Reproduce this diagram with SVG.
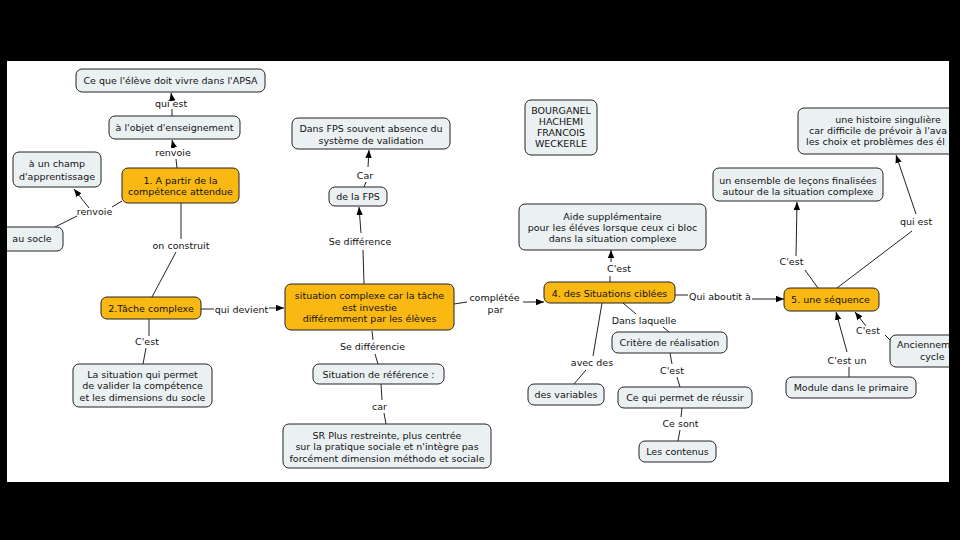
<svg xmlns="http://www.w3.org/2000/svg" width="960" height="540" viewBox="0 0 960 540">
<defs>
<clipPath id="frame"><rect x="7" y="61" width="942" height="421"/></clipPath>
<marker id="arr" markerUnits="userSpaceOnUse" markerWidth="9" markerHeight="7" refX="8" refY="3.2" orient="auto"><path d="M0,0 L8,3.2 L0,6.4 z" fill="#000"/></marker>
<style>
text{font-family:"DejaVu Sans","Verdana",sans-serif;font-size:9.5px;fill:#111;text-anchor:middle}
.st{text-anchor:start}
.n rect{fill:#ebf1f3;stroke:#222;stroke-width:1}
.o rect{fill:#f9b912;stroke:#222;stroke-width:1}
#connectors path{fill:none;stroke:#222;stroke-width:1}
#connectors path.a{marker-end:url(#arr)}
</style>
</defs>
<rect x="0" y="0" width="960" height="540" fill="#000"/>
<g clip-path="url(#frame)">
<rect x="7" y="61" width="942" height="421" fill="#fff"/>
<g id="connectors">
<path d="M177,168 L176,159"/>
<path class="a" d="M174,148 L172,140"/>
<path d="M172,116 L172,109"/>
<path class="a" d="M172,99 L171,93"/>
<path d="M122,201 L112,207"/>
<path class="a" d="M89,208 L74,189"/>
<path d="M77,216 L53,228"/>
<path d="M181,203 L181,239"/>
<path d="M176,252 L152,297"/>
<path d="M201,309 L214,309"/>
<path class="a" d="M269,308 L284,308"/>
<path d="M149,319 L149,336"/>
<path d="M146,348 L143,364"/>
<path d="M364,284 L363,250"/>
<path class="a" d="M361,233 L359,207"/>
<path d="M364,187 L366,182"/>
<path class="a" d="M368,167 L369,150"/>
<path d="M372,331 L373,340"/>
<path d="M375,354 L378,364"/>
<path d="M381,384 L382,400"/>
<path d="M384,413 L386,424"/>
<path d="M454,304 L467,302"/>
<path class="a" d="M523,302 L544,302"/>
<path d="M610,282 L610,276"/>
<path class="a" d="M611,262 L611,250"/>
<path d="M675,295 L688,295"/>
<path class="a" d="M752,299 L784,299"/>
<path d="M602,303 L593,356"/>
<path d="M586,370 L574,384"/>
<path d="M623,303 L636,314"/>
<path d="M663,327 L669,332"/>
<path d="M670,353 L672,364"/>
<path d="M677,377 L680,387"/>
<path d="M682,408 L681,417"/>
<path d="M680,430 L678,441"/>
<path d="M818,288 L805,270"/>
<path class="a" d="M796,256 L797,202"/>
<path d="M837,288 L912,231"/>
<path class="a" d="M916,214 L896,155"/>
<path d="M849,377 L849,367"/>
<path class="a" d="M847,352 L836,312"/>
<path d="M891,341 L885,335"/>
<path class="a" d="M866,326 L855,312"/>
</g>
<g id="labels">
<text x="171" y="106.5">qui est</text>
<text x="173" y="156">renvoie</text>
<text x="94.5" y="215">renvoie</text>
<text x="181" y="248.5">on construit</text>
<text x="241.5" y="312.5">qui devient</text>
<text x="147" y="344.5">C'est</text>
<text x="365" y="178.5">Car</text>
<text x="360" y="245">Se différence</text>
<text x="372.5" y="350">Se différencie</text>
<text x="379.5" y="409.5">car</text>
<text x="494.5" y="301">complétée</text>
<text x="495.5" y="312.5">par</text>
<text x="619" y="271.5">C'est</text>
<text x="720" y="300">Qui aboutit à</text>
<text x="644" y="324">Dans laquelle</text>
<text x="592" y="366">avec des</text>
<text x="672" y="373.5">C'est</text>
<text x="680.5" y="427">Ce sont</text>
<text x="791.5" y="265">C'est</text>
<text x="916" y="225">qui est</text>
<text x="847" y="363.5">C'est un</text>
<text x="868" y="333.5">C'est</text>
</g>
<g id="n_apsa" class="n"><rect x="76" y="69" width="189" height="23" rx="6"/><text x="170.5" y="84">Ce que l'élève doit vivre dans l'APSA</text></g>
<g id="n_objet" class="n"><rect x="109" y="116" width="131" height="23" rx="6"/><text x="174.5" y="131">à l'objet d'enseignement</text></g>
<g id="n_champ" class="n"><rect x="13" y="152" width="88" height="35" rx="6"/><text x="57" y="167">à un champ</text><text x="57" y="180">d'apprentissage</text></g>
<g id="n_comp" class="o"><rect x="122" y="168" width="117" height="35" rx="6"/><text x="180.5" y="183.5">1. A partir de la</text><text x="180.5" y="195">compétence attendue</text></g>
<g id="n_socle" class="n"><rect x="-3" y="227" width="66" height="24" rx="6"/><text x="32" y="242">au socle</text></g>
<g id="n_tache" class="o"><rect x="101" y="297" width="100" height="22" rx="6"/><text x="151" y="311.5">2.Tâche complexe</text></g>
<g id="n_lasit" class="n"><rect x="73" y="364" width="139" height="43" rx="6"/><text x="142.5" y="377.5">La situation qui permet</text><text x="142.5" y="389">de valider la compétence</text><text x="142.5" y="400.5">et les dimensions du socle</text></g>
<g id="n_sit" class="o"><rect x="285" y="284" width="169" height="46" rx="6"/><text x="369.5" y="299">situation complexe car la tâche</text><text x="369.5" y="310.5">est investie</text><text x="369.5" y="322">différemment par les élèves</text></g>
<g id="n_ref" class="n"><rect x="313" y="364" width="131" height="20" rx="6"/><text x="378.5" y="377.5">Situation de référence :</text></g>
<g id="n_sr" class="n"><rect x="283" y="424" width="208" height="44" rx="6"/><text x="387" y="438.5">SR Plus restreinte, plus centrée</text><text x="387" y="450">sur la pratique sociale et n'intègre pas</text><text x="387" y="461.5">forcément dimension méthodo et sociale</text></g>
<g id="n_fpsabs" class="n"><rect x="292" y="118" width="158" height="31" rx="6"/><text x="371" y="132">Dans FPS souvent absence du</text><text x="371" y="143.5">système de validation</text></g>
<g id="n_fps" class="n"><rect x="329" y="187" width="58" height="19" rx="6"/><text x="358" y="199.5">de la FPS</text></g>
<g id="n_auteurs" class="n"><rect x="525" y="100" width="72" height="55" rx="6"/><text x="561" y="113.5">BOURGANEL</text><text x="561" y="124.7">HACHEMI</text><text x="561" y="135.9">FRANCOIS</text><text x="561" y="147.1">WECKERLE</text></g>
<g id="n_aide" class="n"><rect x="519" y="204" width="187" height="46" rx="6"/><text x="612.5" y="219.5">Aide supplémentaire</text><text x="612.5" y="230.5">pour les éléves lorsque ceux ci bloc</text><text x="612.5" y="241.5">dans la situation complexe</text></g>
<g id="n_cibles" class="o"><rect x="544" y="282" width="131" height="21" rx="6"/><text x="609.5" y="297">4. des Situations ciblées</text></g>
<g id="n_critere" class="n"><rect x="612" y="332" width="115" height="21" rx="6"/><text x="669.5" y="346">Critère de réalisation</text></g>
<g id="n_variables" class="n"><rect x="528" y="384" width="76" height="21" rx="6"/><text x="566" y="398">des variables</text></g>
<g id="n_reussir" class="n"><rect x="618" y="387" width="134" height="21" rx="6"/><text x="685" y="401">Ce qui permet de réussir</text></g>
<g id="n_contenus" class="n"><rect x="639" y="441" width="77" height="21" rx="6"/><text x="677.5" y="455">Les contenus</text></g>
<g id="n_sequence" class="o"><rect x="784" y="288" width="95" height="23" rx="6"/><text x="830.5" y="303">5. une séquence</text></g>
<g id="n_ancien" class="n"><rect x="890" y="335" width="90" height="32" rx="6"/><text class="st" x="897" y="348">Anciennem</text><text class="st" x="920" y="359.5">cycle</text></g>
<g id="n_module" class="n"><rect x="786" y="377" width="130" height="21" rx="6"/><text x="851" y="391">Module dans le primaire</text></g>
<g id="n_ensemble" class="n"><rect x="713" y="168" width="170" height="33" rx="6"/><text x="798" y="183.5">un ensemble de leçons finalisées</text><text x="798" y="194.5">autour de la situation complexe</text></g>
<g id="n_histoire" class="n"><rect x="798" y="108" width="180" height="46" rx="6"/><text x="888" y="122.5">une histoire singulière</text><text class="st" x="809" y="133.5">car difficile de prévoir à l'ava</text><text class="st" x="806" y="145">les choix et problèmes des él</text></g>
</g>
</svg>
